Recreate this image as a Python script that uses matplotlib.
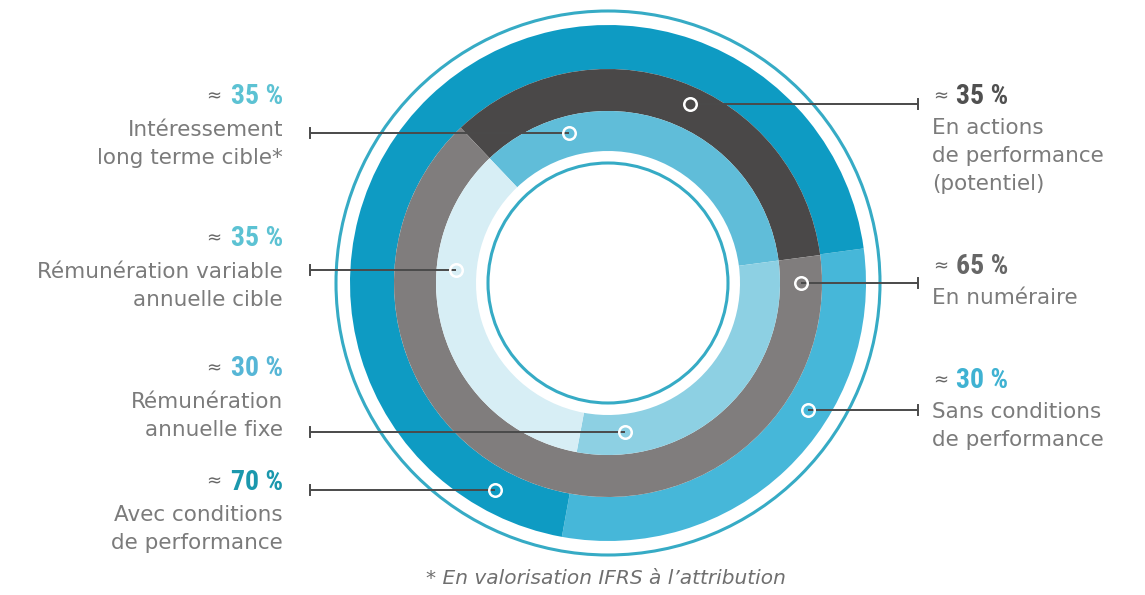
import numpy as np
import matplotlib.pyplot as plt
from matplotlib import font_manager as fm

W, H = 1145, 595
CX, CY = 608, 283

# ring data (clockwise order)
outer_labels = ["Sans conditions de performance", "Avec conditions de performance"]
outer_values = [30, 70]
outer_colors = ["#46b7d9", "#0e9bc3"]

middle_labels = ["En actions de performance (potentiel)", "En numéraire"]
middle_values = [35, 65]
middle_colors = ["#4a4848", "#807d7d"]

inner_labels = ["Intéressement long terme cible*", "Rémunération annuelle fixe",
                "Rémunération variable annuelle cible"]
inner_values = [35, 30, 35]
inner_colors = ["#60bdd9", "#8dd0e3", "#d7eef5"]

# callouts
left_pcts = ["35 %", "35 %", "30 %", "70 %"]
left_pct_colors = ["#5cc2d3", "#5cc2d3", "#56b6d6", "#1b98ad"]
left_texts = [["Intéressement", "long terme cible*"],
              ["Rémunération variable", "annuelle cible"],
              ["Rémunération", "annuelle fixe"],
              ["Avec conditions", "de performance"]]
left_pct_y = [97, 239, 369, 482]
left_leader_y = [133, 270, 432, 490]
left_marker_r = [155, 153, 150, 236]
left_marker_side = [-1, -1, 1, -1]

right_pcts = ["35 %", "65 %", "30 %"]
right_pct_colors = ["#505050", "#666666", "#3fb2d2"]
right_texts = [["En actions", "de performance", "(potentiel)"],
               ["En numéraire"],
               ["Sans conditions", "de performance"]]
right_pct_y = [97, 267, 381]
right_leader_y = [104, 283, 410]
right_marker_r = [197, 193, 237]

footnote = "* En valorisation IFRS à l\u2019attribution"

TXT = "#7b7b7b"
LINE = "#4a4a4a"

# pick a narrow face for the percentages if one is installed
names = {f.name for f in fm.fontManager.ttflist}
stretches = {(f.name, str(f.stretch)) for f in fm.fontManager.ttflist}
PCT_KW = dict(family="DejaVu Sans")
for cand in ["Roboto Condensed", "Liberation Sans Narrow", "Open Sans Condensed",
             "Noto Sans Condensed", "DejaVu Sans Condensed"]:
    if cand in names:
        PCT_KW = dict(family=cand)
        break
else:
    cond = [n for n in names if "Condensed" in n or "Narrow" in n]
    if cond:
        PCT_KW = dict(family=sorted(cond)[0])
    elif ("DejaVu Sans", "condensed") in stretches:
        PCT_KW = dict(family="DejaVu Sans", fontstretch="condensed")
    elif ("Roboto", "condensed") in stretches:
        PCT_KW = dict(family="Roboto", fontstretch="condensed")


def Y(y):
    return H - y


fig = plt.figure(figsize=(W / 100, H / 100), dpi=100)
ax = fig.add_axes([0, 0, 1, 1])

center = (CX, Y(CY))
ax.pie(outer_values, radius=258, center=center, startangle=7.7, counterclock=False,
       colors=outer_colors, wedgeprops=dict(width=44, linewidth=0))
ax.pie(middle_values, radius=214, center=center, startangle=133.5, counterclock=False,
       colors=middle_colors, wedgeprops=dict(width=42, linewidth=0))
ax.pie(inner_values, radius=172, center=center, startangle=133.5, counterclock=False,
       colors=inner_colors, wedgeprops=dict(width=40, linewidth=0))

for r in (272, 120):
    ax.add_patch(plt.Circle(center, r, fill=False, ec="#36abc5", lw=2.2))

ax.set_xlim(0, W)
ax.set_ylim(0, H)
ax.set_aspect("equal")
ax.axis("off")


def leader(y, r, side, x_end):
    dy = y - CY
    mx = CX + side * np.sqrt(r ** 2 - dy ** 2)
    ax.plot([x_end, mx], [Y(y), Y(y)], color=LINE, lw=1.4, solid_capstyle="butt")
    ax.plot([x_end, x_end], [Y(y) - 5, Y(y) + 5], color=LINE, lw=1.4)
    ax.plot(mx, Y(y), "o", ms=9, mfc="none", mec="white", mew=1.8)


fig.canvas.draw()
renderer = fig.canvas.get_renderer()

# left side
for pct, col, lines, py, ly, r, s in zip(left_pcts, left_pct_colors, left_texts, left_pct_y,
                                         left_leader_y, left_marker_r, left_marker_side):
    t = ax.text(283, Y(py), pct, ha="right", va="center", fontsize=20, fontweight="bold",
                color=col, **PCT_KW)
    bb = t.get_window_extent(renderer)
    ax.text(bb.x0 - 10, Y(py) + 1, "\u2248", ha="right", va="center", fontsize=13, color="#666666")
    for i, line in enumerate(lines):
        ax.text(283, Y(py + 33 + i * 28), line, ha="right", va="center", fontsize=15.5, color=TXT)
    leader(ly, r, s, 310)

# right side
for pct, col, lines, py, ly, r in zip(right_pcts, right_pct_colors, right_texts, right_pct_y,
                                      right_leader_y, right_marker_r):
    a = ax.text(933, Y(py) + 1, "\u2248", ha="left", va="center", fontsize=13, color="#666666")
    bb = a.get_window_extent(renderer)
    ax.text(bb.x1 + 8, Y(py), pct, ha="left", va="center", fontsize=20, fontweight="bold",
            color=col, **PCT_KW)
    for i, line in enumerate(lines):
        ax.text(932, Y(py + 31 + i * 28), line, ha="left", va="center", fontsize=15.5, color=TXT)
    leader(ly, r, 1, 918)

ax.text(606, Y(578), footnote, ha="center", va="center", fontsize=14.5, style="italic", color="#6f6f6f")

plt.savefig("out.png", dpi=100, facecolor="white")
